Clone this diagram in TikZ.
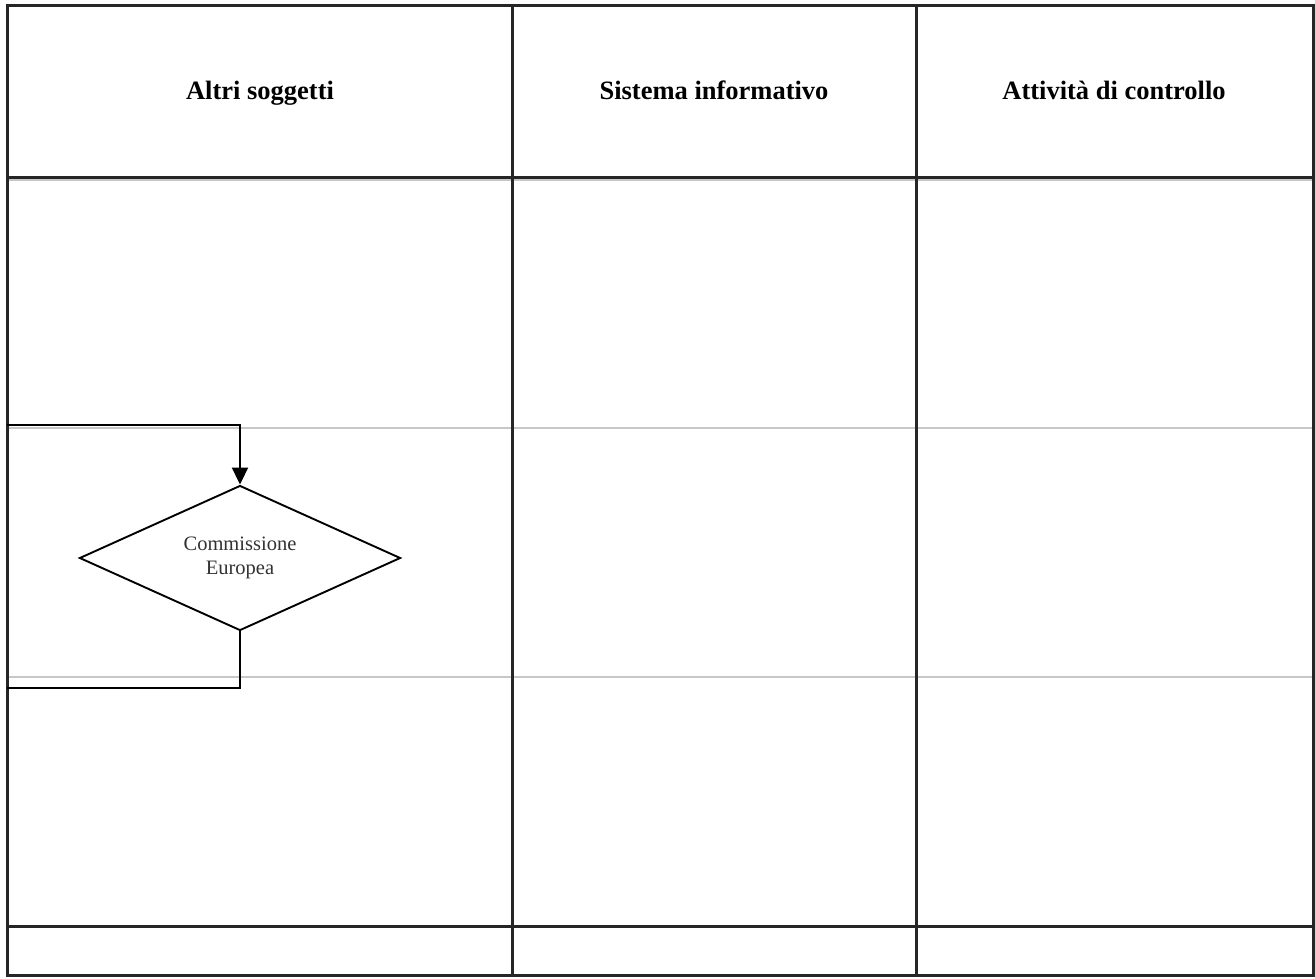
\documentclass[tikz,border=0pt]{standalone}
\usepackage{fontspec}
\setmainfont{Liberation Serif}
\usetikzlibrary{shapes.geometric, arrows.meta}

\begin{document}
\begin{tikzpicture}[x=1pt, y=-1pt, line join=miter,
  lane/.style={line width=3pt, draw=black!85},
  rowline/.style={line width=1.3pt, draw=black!22},
  header/.style={anchor=base, font=\bfseries\fontsize{26.5}{32}\selectfont},
  decision/.style={diamond, draw, line width=1.9pt, aspect=2.2,
    minimum width=321pt, minimum height=145pt, inner sep=0pt,
    align=center, font=\fontsize{20.5}{24.5}\selectfont, text=black!80},
  flow/.style={line width=1.9pt, -{Triangle[length=17pt, width=16pt]}},
  flowline/.style={line width=1.9pt}]
  % Fond et cadre
  \useasboundingbox[fill=white] (0,0) rectangle (1315,978);
  % Lignes de séparation des rangées
  \draw[rowline] (7,428) -- (1313,428);
  \draw[rowline] (7,677) -- (1313,677);
  \draw[rowline] (7,180) -- (1313,180);
  % Colonnes et bordures
  \draw[lane] (7,5) rectangle (1313,975);
  \draw[lane] (7,177) -- (1313,177);
  \draw[lane] (7,926) -- (1313,926);
  \draw[lane] (512,5) -- (512,975);
  \draw[lane] (916,5) -- (916,975);
  % En-têtes
  \node[header] (hAltri) at (260,99) {Altri soggetti};
  \node[header] (hSistema) at (714,99) {Sistema informativo};
  \node[header] (hAttivita) at (1114,99) {Attività di controllo};
  % Décision
  \node[decision] (ce) at (240,558) {Commissione\\Europea};
  \coordinate (cIn) at (7,425);
  \coordinate (cOut) at (7,688);
  \draw[flow] (cIn) -| (ce.north);
  \draw[flowline] (ce.south) |- (cOut);
\end{tikzpicture}
\end{document}
